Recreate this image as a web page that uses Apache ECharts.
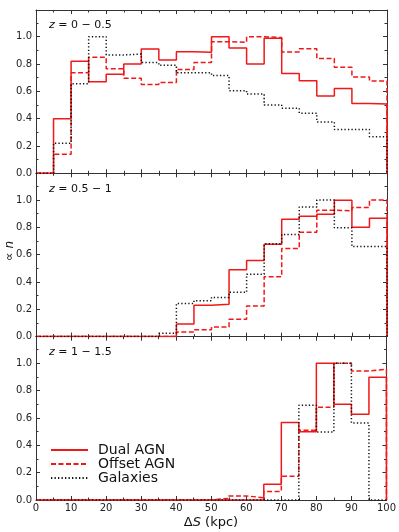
<!DOCTYPE html>
<html>
<head>
<meta charset="utf-8">
<script src="https://cdn.jsdelivr.net/npm/echarts@6/dist/echarts.min.js"></script>
<style>
html,body{margin:0;padding:0;background:#fff;}
#c{width:399px;height:532px;}
</style>
</head>
<body>
<div id="c"></div>
<script>
// Bin edges (kpc)
const binEdges = [0,5,10,15,20,25,30,35,40,45,50,55,60,65,70,75,80,85,90,95,100];
const xTicks = [0,10,20,30,40,50,60,70,80,90,100];
const yTicks = [0,0.2,0.4,0.6,0.8,1.0];
const panelLabels = ['0 \u2212 0.5', '0.5 \u2212 1', '1 \u2212 1.5'];
const seriesNames = ['Dual AGN', 'Offset AGN', 'Galaxies'];

// z = 0 - 0.5
const dual1   = [0,0.40,0.82,0.67,0.725,0.80,0.91,0.83,0.89,0.885,1.00,0.917,0.80,0.988,0.73,0.678,0.566,0.62,0.51,0.507];
const offset1 = [0,0.14,0.735,0.85,0.765,0.695,0.65,0.665,0.76,0.81,0.963,0.958,1.00,0.993,0.888,0.912,0.84,0.776,0.705,0.676];
const gal1    = [0,0.22,0.655,1.00,0.866,0.873,0.81,0.79,0.735,0.735,0.715,0.605,0.58,0.50,0.476,0.44,0.376,0.32,0.32,0.268];

// z = 0.5 - 1
const dual2   = [0,0,0,0,0,0,0,0,0.092,0.229,0.236,0.49,0.557,0.676,0.859,0.88,0.895,0.998,0.80,0.866];
const offset2 = [0,0,0,0,0,0,0,0,0.034,0.05,0.07,0.127,0.224,0.438,0.645,0.764,0.925,0.92,0.944,1.00];
const gal2    = [0,0,0,0,0,0,0,0.024,0.243,0.263,0.287,0.324,0.457,0.679,0.747,0.949,1.00,0.796,0.659,0.659];

// z = 1 - 1.5
const dual3   = [0,0,0,0,0,0,0,0,0,0,0,0,0,0.115,0.568,0.50,1.00,0.70,0.627,0.898];
const offset3 = [0,0,0,0,0,0,0,0,0,0,0.012,0.03,0.017,0.063,0.173,0.51,0.678,1.00,0.944,0.956];
const gal3    = [0,0,0,0,0,0,0,0,0,0,0,0,0,0,0,0.693,0.498,1.00,0.563,0];

const panels = [[dual1, offset1, gal1], [dual2, offset2, gal2], [dual3, offset3, gal3]];

function stepOutline(vals) {
  const pts = [];
  for (let i = 0; i < vals.length; i++) pts.push([binEdges[i], vals[i]]);
  pts.push([binEdges[vals.length], vals[vals.length - 1]]);
  pts.push([binEdges[vals.length], 0]);
  return pts;
}

const AX = '#333';
const tops = [10, 173.3, 336.7];
const H = 163.3;
const YMAX = 1.195;

const grids = [], xAxes = [], yAxes = [], series = [];
const styles = [
  {color: '#f01818', type: 'solid'},
  {color: '#f01818', type: [5, 2.5]},
  {color: '#111111', type: [1.3, 2.2]}
];

for (let p = 0; p < 3; p++) {
  grids.push({left: 36, right: 12, top: tops[p], height: H, containLabel: false});
  const isBottom = p === 2;
  const xBase = {
    type: 'value', gridIndex: p, min: xTicks[0], max: xTicks[xTicks.length - 1], interval: 10,
    axisLine: {show: true, onZero: false, lineStyle: {color: AX, width: 1}},
    axisTick: {show: true, inside: true, length: 4, lineStyle: {color: AX, width: 1}},
    minorTick: {show: true, splitNumber: 2, length: 2.5, lineStyle: {color: AX, width: 1}},
    splitLine: {show: false}
  };
  xAxes.push(Object.assign({}, xBase, {
    position: 'bottom',
    axisLabel: {show: isBottom, color: '#222', fontSize: 10, fontFamily: 'DejaVu Sans', margin: 3}
  }));
  xAxes.push(Object.assign({}, xBase, {position: 'top', axisLabel: {show: false}}));
  const yBase = {
    type: 'value', gridIndex: p, min: 0, max: YMAX, interval: 0.2,
    axisLine: {show: true, onZero: false, lineStyle: {color: AX, width: 1}},
    axisTick: {show: true, inside: true, length: 4, lineStyle: {color: AX, width: 1}},
    minorTick: {show: true, splitNumber: 2, length: 2.5, lineStyle: {color: AX, width: 1}},
    splitLine: {show: false}
  };
  yAxes.push(Object.assign({}, yBase, {
    position: 'left',
    axisLabel: {show: true, color: '#222', fontSize: 10, fontFamily: 'DejaVu Sans', margin: 4,
      showMaxLabel: false,
      formatter: v => (yTicks.indexOf(Math.round(v * 10) / 10) >= 0 ? v.toFixed(1) : '')}
  }));
  yAxes.push(Object.assign({}, yBase, {position: 'right', axisLabel: {show: false}}));

  panels[p].forEach((vals, k) => {
    series.push({
      name: seriesNames[k], type: 'line', xAxisIndex: 2 * p, yAxisIndex: 2 * p,
      step: 'end', symbol: 'none', silent: true, animation: false,
      lineStyle: {color: styles[k].color, type: styles[k].type, width: 1.5},
      itemStyle: {color: styles[k].color},
      data: stepOutline(vals)
    });
  });
}

const graphics = panelLabels.map((t, p) => ({
  type: 'text', left: 49, top: tops[p] + 10,
  style: {
    text: '{i|z} = ' + t,
    font: '11px "DejaVu Sans"', fill: '#111',
    rich: {i: {fontStyle: 'italic', fontFamily: 'DejaVu Sans', fontSize: 11, fill: '#111'}}
  }
}));
graphics.push({
  type: 'text', x: 4, y: 251, rotation: Math.PI / 2,
  style: {
    text: '\u221D {i|n}', font: '12px "DejaVu Sans"', fill: '#111',
    align: 'center', verticalAlign: 'top',
    rich: {i: {fontStyle: 'italic', fontFamily: 'DejaVu Sans', fontSize: 12}}
  }
});
graphics.push({
  type: 'text', x: 211, y: 516,
  style: {
    text: '\u0394{i|S} (kpc)', font: '13px "DejaVu Sans"', fill: '#111',
    align: 'center', verticalAlign: 'top',
    rich: {i: {fontStyle: 'italic', fontFamily: 'DejaVu Sans', fontSize: 13}}
  }
});

const chart = echarts.init(document.getElementById('c'), null, {renderer: 'canvas'});
chart.setOption({
  animation: false,
  backgroundColor: '#fff',
  grid: grids,
  xAxis: xAxes,
  yAxis: yAxes,
  series: series,
  legend: {
    data: seriesNames, orient: 'vertical', left: 45, top: 438,
    itemWidth: 37, itemHeight: 8, itemGap: 0,
    itemStyle: {opacity: 0},
    textStyle: {fontSize: 14, lineHeight: 13, fontFamily: 'DejaVu Sans', color: '#111', padding: [0, 0, 0, 5]},
    selectedMode: false
  },
  graphic: graphics
});
</script>
</body>
</html>
